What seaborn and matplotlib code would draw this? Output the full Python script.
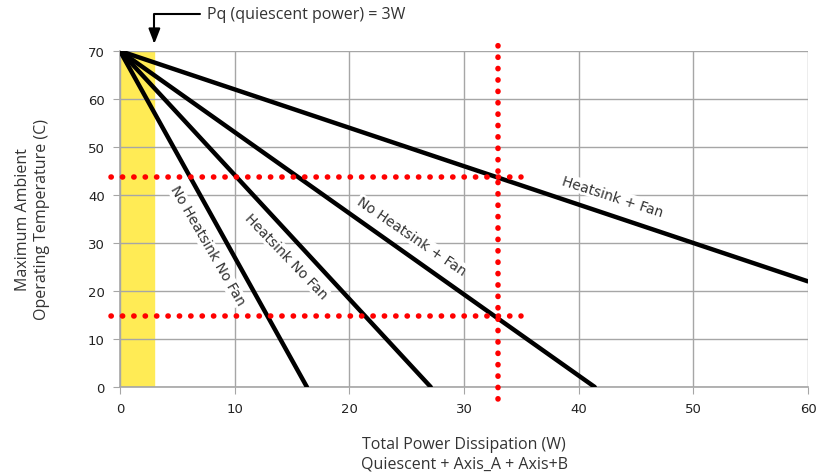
import math
import matplotlib
matplotlib.use("Agg")
import matplotlib.pyplot as plt
import seaborn as sns
import pandas as pd

# derating curves: all start at (0 W, 70 C)
curve_names = ["No Heatsink No Fan", "Heatsink No Fan", "No Heatsink + Fan", "Heatsink + Fan"]
start_power = [0, 0, 0, 0]
start_temp = [70, 70, 70, 70]
end_power = [16.3, 27.1, 41.4, 60]
end_temp = [0, 0, 0, 22]

# label placement (data coords)
label_x = [7.6, 14.5, 25.4, 42.9]
label_y = [29.6, 27.3, 31.5, 39.8]

quiescent_power = 3
marker_power = 33
marker_temps = [43.7, 14.7]
hline_x = [-0.8, 35]
vline_y = [-2.5, 71.2]

rows = []
for name, x0, y0, x1, y1 in zip(curve_names, start_power, start_temp, end_power, end_temp):
    rows.append({"curve": name, "power": x0, "temp": y0})
    rows.append({"curve": name, "power": x1, "temp": y1})
df = pd.DataFrame(rows)

sns.set_style("white")
plt.rcParams['font.family'] = ['DejaVu Sans']

fig = plt.figure(figsize=(8.19, 4.77), dpi=100)
ax = fig.add_axes([0.1465, 0.1866, 0.8401, 0.7044])

ax.axvspan(0, quiescent_power, color="#ffeb55", zorder=0)

sns.lineplot(data=df, x="power", y="temp", units="curve", estimator=None,
             color="black", linewidth=3.2, ax=ax, zorder=3)

dot = dict(color="red", linewidth=4.0, linestyle=(0, (0.05, 2.0)),
           dash_capstyle="round", clip_on=False, zorder=4)
for t in marker_temps:
    ax.plot(hline_x, [t, t], **dot)
ax.plot([marker_power, marker_power], vline_y, **dot)

# rotation angles from axes geometry
fig.canvas.draw()
for name, x1, y1, lx, ly in zip(curve_names, end_power, end_temp, label_x, label_y):
    p0 = ax.transData.transform((0, 70))
    p1 = ax.transData.transform((x1, y1))
    ang = math.degrees(math.atan2(p1[1] - p0[1], p1[0] - p0[0]))
    ax.text(lx, ly, name, rotation=ang, rotation_mode="anchor", ha="center", va="center",
            fontsize=10, color="#333333", zorder=5,
            bbox=dict(facecolor="white", edgecolor="none", pad=0.5))

ax.set_xlim(0, 60)
ax.set_ylim(0, 70)
ax.set_xticks(range(0, 61, 10))
ax.set_yticks(range(0, 71, 10))
ax.grid(True, color="#a6a6a6", linewidth=1)
ax.set_axisbelow(True)
for s in ["top", "right"]:
    ax.spines[s].set_visible(False)
for s in ["left", "bottom"]:
    ax.spines[s].set_color("#a6a6a6")
    ax.spines[s].set_linewidth(1.2)
ax.tick_params(axis="both", length=5, color="#a6a6a6", labelsize=9.5, labelcolor="#222222", pad=6,
               direction="out", bottom=True, left=True)

ax.set_xlabel("Total Power Dissipation (W)\nQuiescent + Axis_A + Axis+B", fontsize=11.5,
              color="#333333", family=["Open Sans", "DejaVu Sans"], labelpad=15, linespacing=1.25)
ax.set_ylabel("Maximum Ambient\nOperating Temperature (C)", fontsize=11.5,
              color="#333333", family=["Open Sans", "DejaVu Sans"], labelpad=27, linespacing=1.25)

# quiescent power callout
fig.text(207 / 819, 1 - 15 / 477, "Pq (quiescent power) = 3W", fontsize=11.5, color="#333333",
         family=["Open Sans", "DejaVu Sans"], va="center", ha="left")
ax.annotate("", xy=(quiescent_power, 71.5), xycoords="data",
            xytext=(200 / 819, 1 - 15 / 477), textcoords="figure fraction",
            arrowprops=dict(arrowstyle="-|>,head_length=0.9,head_width=0.35", color="black",
                            linewidth=1.5, connectionstyle="angle,angleA=0,angleB=90,rad=0",
                            shrinkA=0, shrinkB=0), annotation_clip=False)

fig.savefig("out.png", dpi=100)
